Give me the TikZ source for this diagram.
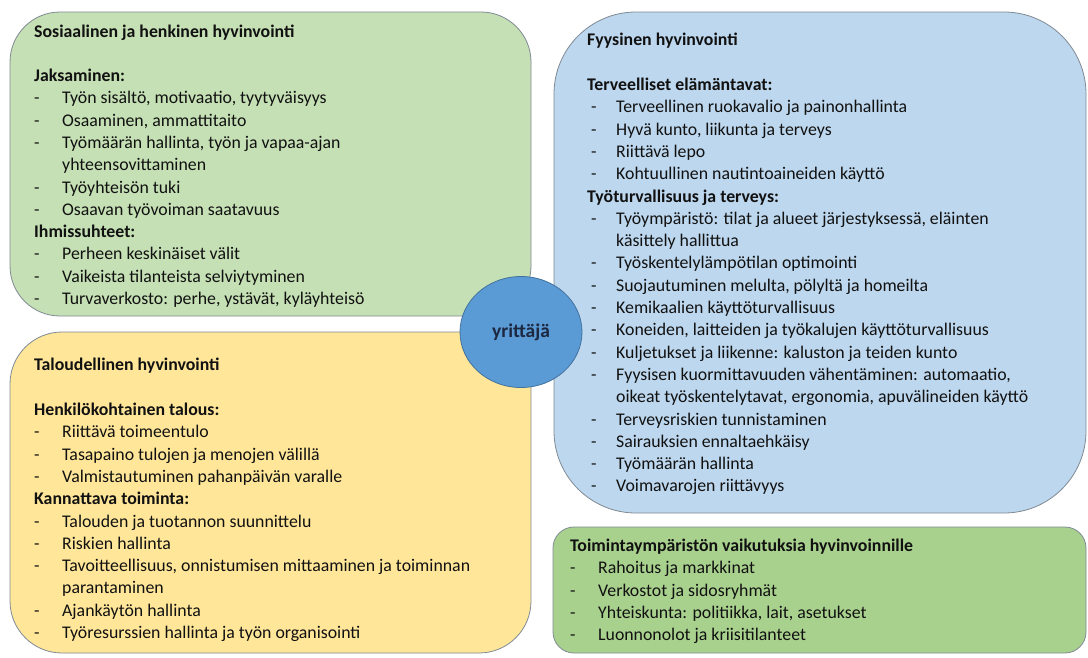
\documentclass[tikz,border=0pt]{standalone}
\usepackage{fontspec}
\setmainfont{Carlito}
\usetikzlibrary{shapes.geometric}
\definecolor{gA}{HTML}{C5E0B4}
\definecolor{yA}{HTML}{FFE699}
\definecolor{bA}{HTML}{BDD7EE}
\definecolor{gB}{HTML}{A9D18E}
\definecolor{cA}{HTML}{5B9BD5}
\definecolor{cB}{HTML}{41719C}
\definecolor{boxline}{HTML}{7F8A94}
\definecolor{textc}{HTML}{111111}
\definecolor{navy}{HTML}{1C2740}
\newcommand{\bodyfont}{\fontsize{17.8}{22.3}\selectfont}
\newcommand{\itm}[1]{-&#1\\}
\newcommand{\hd}[1]{\multicolumn{2}{@{}l@{}}{\bfseries #1}\\}
\begin{document}
\begin{tikzpicture}[x=1pt,y=-1pt,
  box/.style={draw=boxline, line width=0.8pt, rectangle, inner sep=0pt},
  txt/.style={anchor=base west, inner sep=0pt, font=\bodyfont, text=textc}]
\useasboundingbox (0,0) rectangle (1088,657);
% boxes
\node[box, fill=gA, rounded corners=50pt, minimum width=521pt, minimum height=304pt] (soc) at (270.5,164) {};
\node[box, fill=yA, rounded corners=52pt, minimum width=521pt, minimum height=321pt] (tal) at (270.5,492.5) {};
\node[box, fill=bA, rounded corners=82pt, minimum width=532pt, minimum height=501pt] (fyy) at (820,262.5) {};
\node[box, fill=gB, rounded corners=21pt, minimum width=533pt, minimum height=126pt] (toi) at (819.5,590) {};
% centre
\node[ellipse, draw=cB, line width=0.8pt, fill=cA, minimum width=122pt, minimum height=111pt, inner sep=0pt,
  font=\fontsize{19.5}{22}\selectfont\bfseries, text=navy] (yri) at (521,332) {yrittäjä};
% texts
\node[txt] (socT) at (34,37.5) {\begin{tabular}[t]{@{}p{28pt}@{}l@{}}
\hd{Sosiaalinen ja henkinen hyvinvointi}[21.7pt]
\hd{Jaksaminen:}
\itm{Työn sisältö, motivaatio, tyytyväisyys}
\itm{Osaaminen, ammattitaito}
\itm{Työmäärän hallinta, työn ja vapaa-ajan}
&yhteensovittaminen\\
\itm{Työyhteisön tuki}
\itm{Osaavan työvoiman saatavuus}
\hd{Ihmissuhteet:}
\itm{Perheen keskinäiset välit}
\itm{Vaikeista tilanteista selviytyminen}
\itm{Turvaverkosto: perhe, ystävät, kyläyhteisö}
\end{tabular}};
\node[txt] (talT) at (34,370.5) {\begin{tabular}[t]{@{}p{28pt}@{}l@{}}
\hd{Taloudellinen hyvinvointi}[22.7pt]
\hd{Henkilökohtainen talous:}
\itm{Riittävä toimeentulo}
\itm{Tasapaino tulojen ja menojen välillä}
\itm{Valmistautuminen pahanpäivän varalle}
\hd{Kannattava toiminta:}
\itm{Talouden ja tuotannon suunnittelu}
\itm{Riskien hallinta}
\itm{Tavoitteellisuus, onnistumisen mittaaminen ja toiminnan}
&parantaminen\\
\itm{Ajankäytön hallinta}
\itm{Työresurssien hallinta ja työn organisointi}
\end{tabular}};
\node[txt] (fyyT) at (587,45.5) {\begin{tabular}[t]{@{\hspace{4pt}}p{25pt}@{}l@{}}
\hd{Fyysinen hyvinvointi}[22.7pt]
\hd{Terveelliset elämäntavat:}
\itm{Terveellinen ruokavalio ja painonhallinta}
\itm{Hyvä kunto, liikunta ja terveys}
\itm{Riittävä lepo}
\itm{Kohtuullinen nautintoaineiden käyttö}
\hd{Työturvallisuus ja terveys:}
\itm{Työympäristö: tilat ja alueet järjestyksessä, eläinten}
&käsittely hallittua\\
\itm{Työskentelylämpötilan optimointi}
\itm{Suojautuminen melulta, pölyltä ja homeilta}
\itm{Kemikaalien käyttöturvallisuus}
\itm{Koneiden, laitteiden ja työkalujen käyttöturvallisuus}
\itm{Kuljetukset ja liikenne: kaluston ja teiden kunto}
\itm{Fyysisen kuormittavuuden vähentäminen: automaatio,}
&oikeat työskentelytavat, ergonomia, apuvälineiden käyttö\\
\itm{Terveysriskien tunnistaminen}
\itm{Sairauksien ennaltaehkäisy}
\itm{Työmäärän hallinta}
\itm{Voimavarojen riittävyys}
\end{tabular}};
\node[txt] (toiT) at (570,551.5) {\begin{tabular}[t]{@{}p{28pt}@{}l@{}}
\hd{Toimintaympäristön vaikutuksia hyvinvoinnille}
\itm{Rahoitus ja markkinat}
\itm{Verkostot ja sidosryhmät}
\itm{Yhteiskunta: politiikka, lait, asetukset}
\itm{Luonnonolot ja kriisitilanteet}
\end{tabular}};
\end{tikzpicture}
\end{document}
